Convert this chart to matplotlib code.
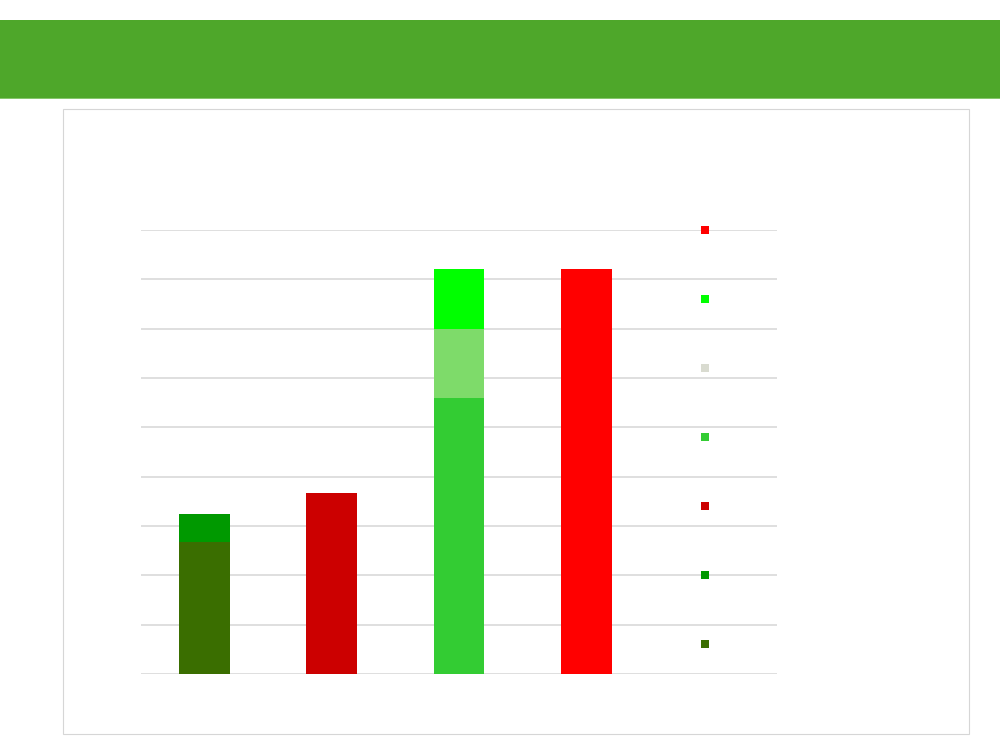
import matplotlib.pyplot as plt
from matplotlib.patches import Rectangle
import numpy as np

# Four stacked columns, seven series (bottom to top of the stack order)
categories = ["A", "B", "C", "D"]
series_olive = [2.68, 0, 0, 0]
series_darkgreen = [0.56, 0, 0, 0]
series_darkred = [0, 3.66, 0, 0]
series_green = [0, 0, 5.60, 0]
series_grey = [0, 0, 1.40, 0]
series_lime = [0, 0, 1.20, 0]
series_red = [0, 0, 0, 8.20]

series = [series_olive, series_darkgreen, series_darkred, series_green,
          series_grey, series_lime, series_red]
bar_colors = ["#3a6e00", "#009900", "#cc0000", "#33cc33",
              "#7edb6a", "#00ff00", "#ff0000"]
key_colors = ["#3a6e00", "#009900", "#cc0000", "#33cc33",
              "#d9dbd0", "#00ff00", "#ff0000"]

fig = plt.figure(figsize=(10, 7.5), dpi=100)
W, H = 1000, 750

# header band
fig.add_artist(Rectangle((0, 1 - 98 / H), 1, 78 / H, transform=fig.transFigure,
                         facecolor="#4ea72a", edgecolor="none", zorder=0))
fig.add_artist(Rectangle((0, 1 - 99 / H), 1, 1.2 / H, transform=fig.transFigure,
                         facecolor="#86c66c", edgecolor="none", zorder=0))
# content panel frame
fig.add_artist(Rectangle((62.5 / W, 1 - 734 / H), 906 / W, 625 / H,
                         transform=fig.transFigure, facecolor="white",
                         edgecolor="#d6d6d6", linewidth=0.8, zorder=0))

ax = fig.add_axes([141 / W, 1 - 674 / H, 636 / W, 444 / H])
ax.set_facecolor("none")
x = np.arange(len(categories))
bottom = np.zeros(len(categories))
for vals, col in zip(series, bar_colors):
    v = np.array(vals, dtype=float)
    ax.bar(x, v, width=0.4, bottom=bottom, color=col, edgecolor="none", zorder=3)
    bottom += v

ax.set_xlim(-0.5, 4.5)
ax.set_ylim(0, 9)
ax.set_yticks(np.arange(0, 10, 1))
ax.yaxis.grid(True, color="#d9d9d9", linewidth=1.2, zorder=0)
ax.tick_params(left=False, bottom=False, labelleft=False, labelbottom=False)
for s in ax.spines.values():
    s.set_visible(False)
ax.set_axisbelow(True)

# key swatches, top row = last series
kax = fig.add_axes([690 / W, 1 - 644 / H, 30 / W, 414 / H])
kax.set_xlim(0, 1)
kax.set_ylim(0, len(series) - 1)
kax.axis("off")
kax.patch.set_alpha(0)
rows = np.arange(len(series))
kax.scatter(np.full(len(series), 0.5), rows, marker="s", s=30,
            c=key_colors, edgecolors="none", zorder=4, clip_on=False)

fig.savefig("out.png", dpi=100, facecolor="white")
